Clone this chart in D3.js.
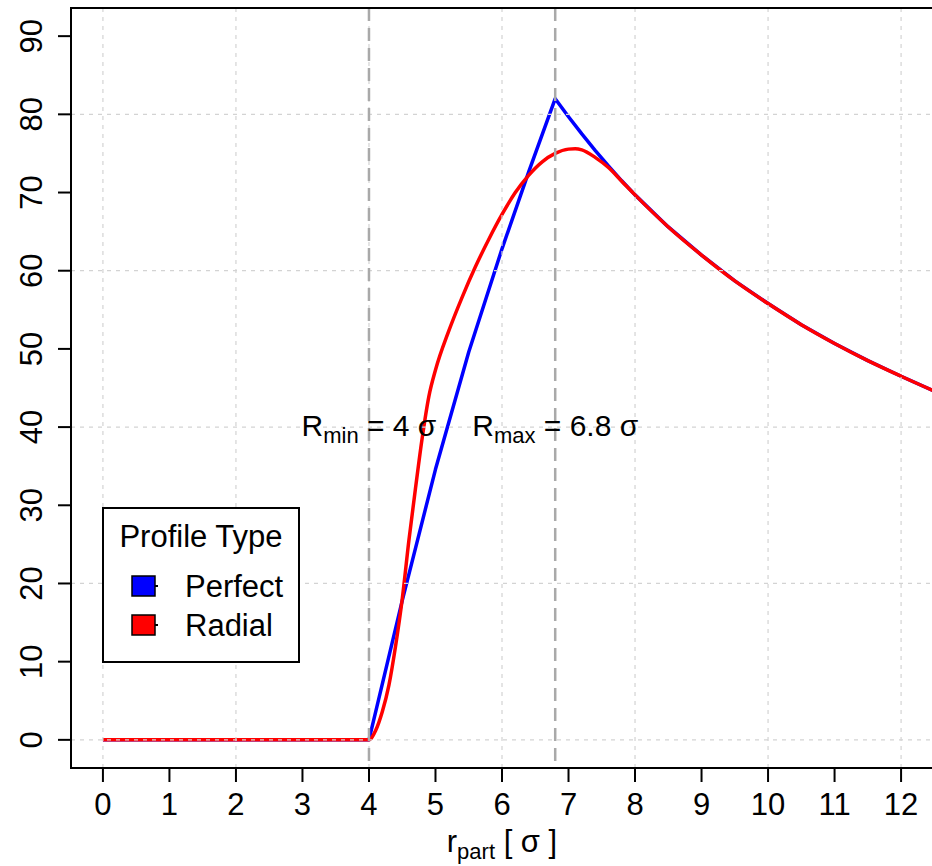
<!DOCTYPE html>
<html>
<head>
<meta charset="utf-8">
<script src="https://cdn.jsdelivr.net/npm/d3@7"></script>
<style>
  body { margin: 0; background: #fff; }
  text { font-family: "Liberation Sans", Arial, sans-serif; fill: #000; }
</style>
</head>
<body>
<svg></svg>
<script>
const width = 932;
const height = 866;

// values
const xTicks = [0, 1, 2, 3, 4, 5, 6, 7, 8, 9, 10, 11, 12];
const yTicks = [0, 10, 20, 30, 40, 50, 60, 70, 80, 90];
const xGrid = [0, 2, 4, 6, 8, 10, 12];
const yGrid = [0, 20, 40, 60, 80];

const rPerfect = [0, 4, 4.5, 5.0, 5.5, 6.0, 6.4, 6.8, 7.0, 7.2, 7.4, 7.6, 7.8, 8.0, 8.5, 9.0, 9.5, 10.0, 10.5, 11.0, 11.5, 12.0, 12.5];
const vPerfect = [0, 0, 17.8, 34.6, 49.6, 62.8, 72.6, 82.0, 79.7, 77.5, 75.4, 73.4, 71.5, 69.7, 65.6, 62.0, 58.7, 55.8, 53.1, 50.7, 48.5, 46.5, 44.6];

const rRadial = [0, 4, 4.1, 4.2, 4.3, 4.4, 4.5, 4.6, 4.7, 4.8, 4.9, 5.0, 5.2, 5.4, 5.6, 5.8, 6.0, 6.2, 6.4, 6.6, 6.8, 7.0, 7.1, 7.2, 7.4, 7.6, 7.8, 8.0, 8.5, 9.0, 9.5, 10.0, 10.5, 11.0, 11.5, 12.0, 12.5];
const vRadial = [0, 0, 1.2, 3.6, 7.0, 12.0, 18.0, 25.5, 32.2, 38.6, 43.9, 47.3, 52.3, 56.6, 60.5, 64.0, 67.2, 70.0, 72.2, 73.9, 75.0, 75.55, 75.6, 75.45, 74.5, 73.2, 71.45, 69.7, 65.6, 62.0, 58.7, 55.8, 53.1, 50.7, 48.5, 46.5, 44.6];

const markers = [4, 6.8];
const markerLabels = [["R", "min", " = 4 σ"], ["R", "max", " = 6.8 σ"]];
const markerLabelY = 40;

const legendNames = ["Perfect", "Radial"];
const legendColors = ["#0000ff", "#ff0000"];

const plot = { left: 71, right: 933, top: 8, bottom: 768 };

const x = d3.scaleLinear().domain([-0.48, 12.48]).range([plot.left, plot.right]);
const y = d3.scaleLinear().domain([-3.6, 93.6]).range([plot.bottom, plot.top]);

const svg = d3.select('svg')
  .attr('width', width)
  .attr('height', height);

svg.append('rect').attr('width', width).attr('height', height).attr('fill', '#fff');

svg.append('defs').append('clipPath').attr('id', 'plotclip')
  .append('rect')
  .attr('x', plot.left).attr('y', plot.top)
  .attr('width', plot.right - plot.left).attr('height', plot.bottom - plot.top);

const inner = svg.append('g').attr('clip-path', 'url(#plotclip)');

const line = d3.line().x((d) => x(d[0])).y((d) => y(d[1]));

inner.append('path')
  .datum(d3.zip(rPerfect, vPerfect))
  .attr('fill', 'none')
  .attr('stroke', legendColors[0])
  .attr('stroke-width', 3.5)
  .attr('stroke-linejoin', 'round')
  .attr('d', line.curve(d3.curveLinear));

inner.append('path')
  .datum(d3.zip(rRadial, vRadial))
  .attr('fill', 'none')
  .attr('stroke', legendColors[1])
  .attr('stroke-width', 3.5)
  .attr('d', line.curve(d3.curveMonotoneX));

// grid goes on top of the curves, as in the original
inner.append('g').selectAll('line')
  .data(xGrid)
  .join('line')
  .attr('x1', (d) => x(d)).attr('x2', (d) => x(d))
  .attr('y1', plot.top).attr('y2', plot.bottom)
  .attr('stroke', '#d3d3d3').attr('stroke-width', 1.2)
  .attr('stroke-dasharray', '4,5');

inner.append('g').selectAll('line')
  .data(yGrid)
  .join('line')
  .attr('x1', plot.left).attr('x2', plot.right)
  .attr('y1', (d) => y(d)).attr('y2', (d) => y(d))
  .attr('stroke', '#d3d3d3').attr('stroke-width', 1.2)
  .attr('stroke-dasharray', '4,5');

inner.append('g').selectAll('line')
  .data(markers)
  .join('line')
  .attr('x1', (d) => x(d)).attr('x2', (d) => x(d))
  .attr('y1', plot.top).attr('y2', plot.bottom)
  .attr('stroke', '#a9a9a9').attr('stroke-width', 2.5)
  .attr('stroke-dasharray', '13,7');

// R_min / R_max labels
markers.forEach((m, i) => {
  const t = svg.append('text')
    .attr('x', x(m))
    .attr('y', y(markerLabelY) + 9)
    .attr('text-anchor', 'middle')
    .style('font-size', '30px');
  t.append('tspan').text(markerLabels[i][0]);
  t.append('tspan').attr('dy', 7).style('font-size', '22px').text(markerLabels[i][1]);
  t.append('tspan').attr('dy', -7).text(markerLabels[i][2]);
});

// axes
const xAxis = svg.append('g');
xAxis.selectAll('line')
  .data(xTicks)
  .join('line')
  .attr('x1', (d) => x(d)).attr('x2', (d) => x(d))
  .attr('y1', plot.bottom).attr('y2', plot.bottom + 14)
  .attr('stroke', '#000').attr('stroke-width', 2);
xAxis.selectAll('text')
  .data(xTicks)
  .join('text')
  .attr('x', (d) => x(d))
  .attr('y', 815)
  .attr('text-anchor', 'middle')
  .style('font-size', '31px')
  .text((d) => d);

const yAxis = svg.append('g');
yAxis.selectAll('line')
  .data(yTicks)
  .join('line')
  .attr('x1', plot.left - 13).attr('x2', plot.left)
  .attr('y1', (d) => y(d)).attr('y2', (d) => y(d))
  .attr('stroke', '#000').attr('stroke-width', 2);
yAxis.selectAll('text')
  .data(yTicks)
  .join('text')
  .attr('transform', (d) => `translate(42,${y(d)}) rotate(-90)`)
  .attr('text-anchor', 'middle')
  .style('font-size', '31px')
  .text((d) => d);

const xlab = svg.append('text')
  .attr('x', (plot.left + plot.right) / 2)
  .attr('y', 852)
  .attr('text-anchor', 'middle')
  .style('font-size', '31px');
xlab.append('tspan').text('r');
xlab.append('tspan').attr('dy', 7).style('font-size', '22px').text('part');
xlab.append('tspan').attr('dy', -7).text(' [ σ ]');

svg.append('rect')
  .attr('x', plot.left).attr('y', plot.top)
  .attr('width', plot.right - plot.left).attr('height', plot.bottom - plot.top)
  .attr('fill', 'none').attr('stroke', '#000').attr('stroke-width', 2);

// legend
const legend = svg.append('g');
legend.append('rect')
  .attr('x', 103).attr('y', 508)
  .attr('width', 196).attr('height', 154)
  .attr('fill', '#fff').attr('stroke', '#000').attr('stroke-width', 2);
legend.append('text')
  .attr('x', 201).attr('y', 547)
  .attr('text-anchor', 'middle')
  .style('font-size', '31px')
  .text('Profile Type');

const item = legend.selectAll('g.item')
  .data(legendNames)
  .join('g')
  .attr('class', 'item')
  .attr('transform', (d, i) => `translate(0,${586 + i * 39})`);
item.append('line')
  .attr('x1', 150).attr('x2', 158).attr('y1', 0).attr('y2', 0)
  .attr('stroke', '#000').attr('stroke-width', 2);
item.append('rect')
  .attr('x', 132).attr('y', -10)
  .attr('width', 23).attr('height', 20)
  .attr('fill', (d, i) => legendColors[i])
  .attr('stroke', '#000').attr('stroke-width', 1.5);
item.append('text')
  .attr('x', 185).attr('y', 11)
  .style('font-size', '31px')
  .text((d) => d);
</script>
</body>
</html>
